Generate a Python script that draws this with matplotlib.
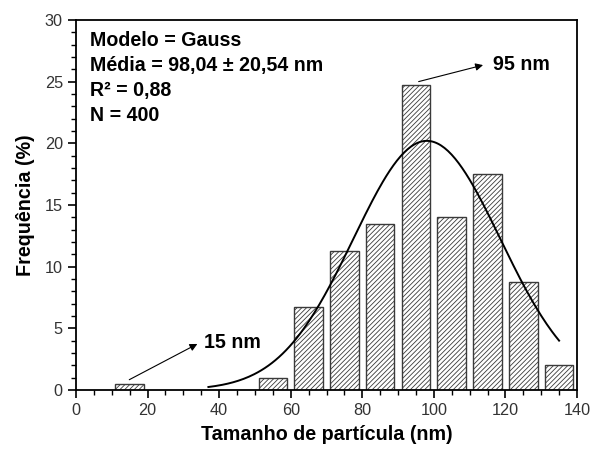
import matplotlib.pyplot as plt
import numpy as np
from matplotlib.ticker import MultipleLocator

plt.rcParams['font.family'] = ['Liberation Sans', 'DejaVu Sans']
plt.rcParams['hatch.linewidth'] = 0.6
plt.rcParams['hatch.color'] = '#555555'

# histograma (classes de 10 nm), frequencia em %
centros = [15, 55, 65, 75, 85, 95, 105, 115, 125, 135]
freq = [0.5, 1.0, 6.75, 11.25, 13.5, 24.75, 14.0, 17.5, 8.75, 2.0]

# ajuste gaussiano (parametros do modelo)
xc = 98.04
sigma = 20.54
pico = 20.2
x_ini, x_fim = 37, 135

fig = plt.figure(figsize=(5.92, 4.5), dpi=100)
ax = fig.add_axes([76/592, 1 - 390/450, (577-76)/592, (390-20)/450])

ax.bar(centros, freq, width=8, facecolor='white', edgecolor='#3a3a3a',
       linewidth=1.0, hatch='///////')

x = np.linspace(x_ini, x_fim, 200)
y = pico * np.exp(-0.5 * ((x - xc) / sigma) ** 2)
ax.plot(x, y, color='black', lw=1.4)

ax.set_xlim(0, 140)
ax.set_ylim(0, 30)
ax.xaxis.set_major_locator(MultipleLocator(20))
ax.xaxis.set_minor_locator(MultipleLocator(5))
ax.yaxis.set_major_locator(MultipleLocator(5))
ax.yaxis.set_minor_locator(MultipleLocator(1))
ax.tick_params(which='major', direction='out', length=6, width=1.2,
               labelsize=11.7, labelcolor='#333333', top=False, right=False)
ax.tick_params(which='minor', direction='out', length=3.5, width=1.0,
               top=False, right=False)
for s in ax.spines.values():
    s.set_linewidth(1.3)

ax.set_xlabel('Tamanho de partícula (nm)', fontsize=14.2, fontweight='bold', labelpad=5)
ax.set_ylabel('Frequência (%)', fontsize=14.2, fontweight='bold', labelpad=7)

info = ['Modelo = Gauss', 'Média = 98,04 ± 20,54 nm', 'R² = 0,88', 'N = 400']
for i, t in enumerate(info):
    ax.text(3.9, 28.35 - i * 2.02, t, fontsize=14.1, fontweight='bold', va='center')

seta = dict(arrowstyle='-|>', color='black', lw=0.8, mutation_scale=11)
ax.annotate('', xy=(34.6, 3.84), xytext=(14.2, 0.73), arrowprops=seta)
ax.text(35.8, 3.84, '15 nm', fontsize=14.1, fontweight='bold', va='center')
ax.annotate('', xy=(114.5, 26.4), xytext=(95, 24.95), arrowprops=seta)
ax.text(116.5, 26.4, '95 nm', fontsize=14.1, fontweight='bold', va='center')

fig.savefig('out.png', dpi=100)
